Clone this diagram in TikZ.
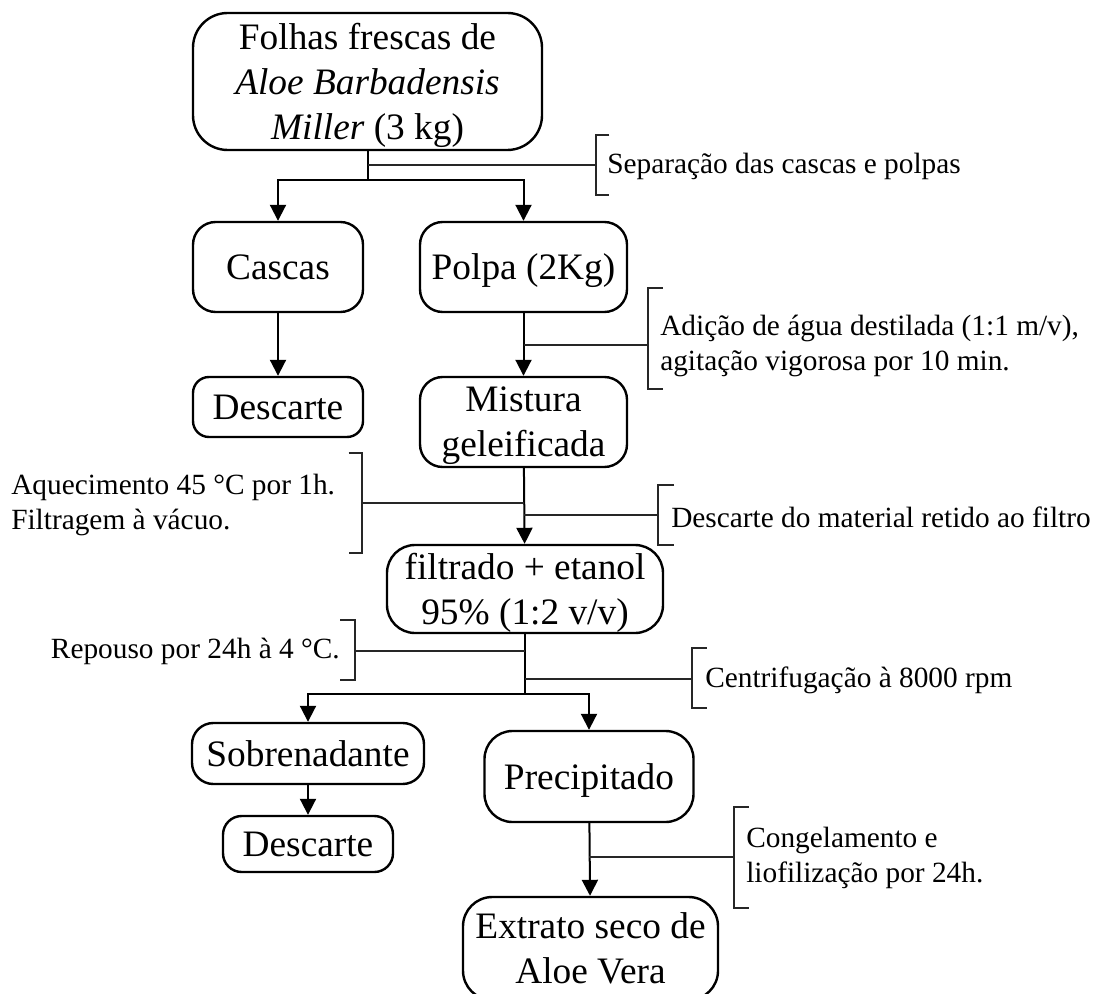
\documentclass[tikz,border=0pt]{standalone}
\usepackage{fontspec}
\setmainfont{Liberation Serif}
\usetikzlibrary{arrows.meta}

\tikzset{
  box/.style={draw, line width=1.8pt, rounded corners=#1, align=center,
    inner sep=0pt, text depth=0pt, font=\fontsize{28}{33.75}\selectfont},
  box/.default=16pt,
  flow/.style={line width=1.5pt},
  arrowflow/.style={flow, -{Triangle[length=12pt,width=12pt]}},
  side/.style={line width=0.9pt, black!85},
  note/.style={inner sep=0pt, align=left, font=\fontsize{22}{26.25}\selectfont}
}

\begin{document}
\begin{tikzpicture}[x=0.75pt,y=-0.75pt]
\clip (0,0) rectangle (1094,994);
\fill[white] (0,0) rectangle (1094,994);

% process boxes
\node[box=26pt, minimum width=261.75pt, minimum height=102.75pt] (folhas) at (367.5,81.5)
  {Folhas frescas de\\\textit{Aloe Barbadensis}\\\textit{Miller} (3 kg)};
\node[box=17pt, minimum width=127.5pt, minimum height=67.5pt] (cascas) at (278,267) {Cascas};
\node[box=17pt, minimum width=155.25pt, minimum height=67.5pt] (polpa) at (523.5,267) {Polpa (2Kg)};
\node[box=12pt, minimum width=127.5pt, minimum height=45pt] (descA) at (278,407) {Descarte};
\node[box=17pt, minimum width=155.25pt, minimum height=67.5pt] (mistura) at (523.5,422) {Mistura\\geleificada};
\node[box=21pt, minimum width=207pt, minimum height=66pt] (filtrado) at (525,589) {filtrado + etanol\\95\% (1:2 v/v)};
\node[box=16pt, minimum width=174pt, minimum height=45.75pt] (sobren) at (308,753.5) {Sobrenadante};
\node[box=14pt, minimum width=127.5pt, minimum height=42pt] (descB) at (308,844) {Descarte};
\node[box=21pt, minimum width=156.75pt, minimum height=68.25pt] (precip) at (589,776.5) {Precipitado};
\node[box=22pt, minimum width=191.25pt, minimum height=77.25pt] (extrato) at (590.5,948.5) {Extrato seco de\\Aloe Vera};

% main flow
\coordinate (split1) at (367.5,180);
\draw[flow] (folhas.south) -- (split1);
\draw[arrowflow] (split1) -| (cascas.north);
\draw[arrowflow] (split1) -| (polpa.north);
\draw[arrowflow] (cascas) -- (descA);
\draw[arrowflow] (polpa) -- (mistura);
\draw[arrowflow] (mistura) -- (filtrado);
\coordinate (split2) at (525,694);
\draw[flow] (filtrado.south) -- (split2);
\draw[arrowflow] (split2) -| (sobren.north);
\draw[arrowflow] (split2) -| (precip.north);
\draw[arrowflow] (sobren) -- (descB);
\draw[arrowflow] (precip) -- (extrato);

% annotations: tap on the flow line, bracket, text
\coordinate (t1) at (367.5,165);
\coordinate (b1) at (596,165);
\draw[side] (t1) -- (b1);
\draw[side] ([xshift=10]b1 |- 0,135) -- (b1 |- 0,135) -- (b1 |- 0,195) -- ([xshift=10]b1 |- 0,195);
\node[note, anchor=west] (n1) at (607,166) {Separação das cascas e polpas};

\coordinate (t2) at (523.5,345);
\coordinate (b2) at (648,345);
\draw[side] (t2) -- (b2);
\draw[side] ([xshift=11]b2 |- 0,288) -- (b2 |- 0,288) -- (b2 |- 0,389) -- ([xshift=11]b2 |- 0,389);
\node[note, anchor=west] (n2) at (660,346) {Adição de água destilada (1:1 m/v),\\agitação vigorosa por 10 min.};

\coordinate (t3) at (524,503);
\coordinate (b3) at (362,503);
\draw[side] (t3) -- (b3);
\draw[side] ([xshift=-10]b3 |- 0,453) -- (b3 |- 0,453) -- (b3 |- 0,553) -- ([xshift=-10]b3 |- 0,553);
\node[note, anchor=west] (n3) at (11,505) {Aquecimento 45 °C por 1h.\\Filtragem à vácuo.};

\coordinate (t4) at (524,515);
\coordinate (b4) at (658,515);
\draw[side] (t4) -- (b4);
\draw[side] ([xshift=12]b4 |- 0,485) -- (b4 |- 0,485) -- (b4 |- 0,545) -- ([xshift=12]b4 |- 0,545);
\node[note, anchor=west] (n4) at (671,517) {Descarte do material retido ao filtro};

\coordinate (t5) at (525,651);
\coordinate (b5) at (355,651);
\draw[side] (t5) -- (b5);
\draw[side] ([xshift=-11]b5 |- 0,620) -- (b5 |- 0,620) -- (b5 |- 0,680) -- ([xshift=-11]b5 |- 0,680);
\node[note, anchor=east] (n5) at (340,651) {Repouso por 24h à 4 °C.};

\coordinate (t6) at (525,679);
\coordinate (b6) at (692,679);
\draw[side] (t6) -- (b6);
\draw[side] ([xshift=11]b6 |- 0,648) -- (b6 |- 0,648) -- (b6 |- 0,708) -- ([xshift=11]b6 |- 0,708);
\node[note, anchor=west] (n6) at (705,680) {Centrifugação à 8000 rpm};

\coordinate (t7) at (589,857);
\coordinate (b7) at (734,857);
\draw[side] (t7) -- (b7);
\draw[side] ([xshift=11]b7 |- 0,807) -- (b7 |- 0,807) -- (b7 |- 0,908) -- ([xshift=11]b7 |- 0,908);
\node[note, anchor=west] (n7) at (746,858) {Congelamento e\\liofilização por 24h.};
\end{tikzpicture}
\end{document}
